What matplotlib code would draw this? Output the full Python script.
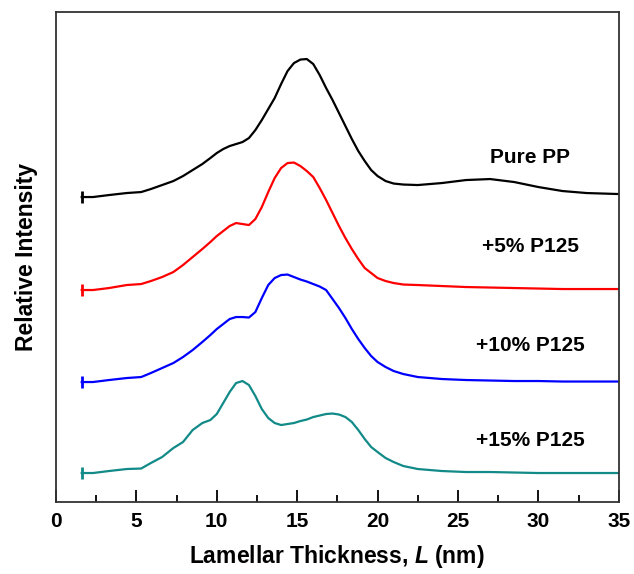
import numpy as np
import matplotlib
matplotlib.use('Agg')
from matplotlib import pyplot as plt

plt.rcParams['font.family'] = ['Liberation Sans', 'DejaVu Sans']
plt.rcParams['font.weight'] = 'bold'
plt.rcParams['mathtext.fontset'] = 'custom'
plt.rcParams['mathtext.it'] = 'Liberation Sans:italic:bold'

# lamellar thickness L (nm)
L = [1.6, 2.3, 3.3, 4.4, 5.3, 5.9, 6.6, 7.3, 7.9, 8.5,
     9.1, 9.6, 10.0, 10.4, 10.8, 11.2, 11.6, 12.0, 12.4, 12.8,
     13.2, 13.6, 14.0, 14.4, 14.8, 15.2, 15.6, 16.0, 16.4, 16.8,
     17.2, 17.6, 18.0, 18.4, 18.8, 19.2, 19.6, 20.0, 20.5, 21.0,
     21.6, 22.5, 24, 25.5, 27, 28.5, 30, 31.5, 33, 35]

# relative intensity (arbitrary units, above each curve's baseline)
pure_pp = [0, 0, 2, 4, 5, 8, 12, 16, 21, 27,
           33, 39, 44, 48, 51, 53, 55, 59, 67, 77,
           88, 99, 113, 126, 134, 137.5, 138, 133, 122, 109,
           97, 84, 71, 58, 46, 36, 27, 21, 16, 13.5,
           12.5, 12, 14, 17, 18, 15, 10, 6, 4, 3]
p125_5 = [0, 0, 2, 5, 6, 9, 13, 18, 25, 33,
          41, 48, 54, 59, 64, 67, 66, 65, 71, 83,
          98, 112, 122, 127, 127.5, 124, 119, 113, 102, 90,
          77, 64, 52, 41, 31, 22, 17, 12, 9, 7,
          5.5, 5, 4, 3, 2.5, 2, 1.5, 1, 1, 1]
p125_10 = [0, 0, 2, 4, 5, 9, 14, 19, 25, 32,
           40, 47, 53, 58, 63, 65, 65, 64.5, 70, 84,
           97, 104, 107, 107.5, 105, 102.5, 100.5, 98, 95.5, 92,
           83, 74, 64, 53, 43, 34, 26, 20, 15, 11,
           8, 5, 3, 2, 1.5, 1, 1, 0.5, 0.5, 0.5]
p125_15 = [0, 0, 2, 4, 4.5, 10, 16, 25, 31, 43,
           50, 53, 59, 70, 81, 90, 92, 88, 77, 64,
           55, 50, 48, 49, 50, 52, 53.5, 56, 57.5, 59,
           59.5, 58.5, 56, 51, 43, 34, 26, 21, 15, 11,
           7, 4, 2, 1, 1, 0.5, 0, 0, 0, 0]

labels = ['Pure PP', '+5% P125', '+10% P125', '+15% P125']
series = [pure_pp, p125_5, p125_10, p125_15]
offsets = [305, 212, 120, 29]
colors = ['black', '#ff0000', '#0000ff', '#118a88']
label_y = [345, 256, 157, 62]

fig = plt.figure(figsize=(6.34, 5.74), dpi=100)
ax = fig.add_axes([0.0883, 0.1254, 0.8877, 0.8536])

for s, off, c, lab, ly in zip(series, offsets, colors, labels, label_y):
    y = np.array(s) + off
    ax.plot(L, y, color=c, lw=1.6, solid_joinstyle='round')
    ax.plot(L[0], y[0], marker='|', color=c, ms=8, mew=2)
    ax.text(29.5, ly, lab, ha='center', va='center', fontsize=15, fontweight='bold')

ax.set_xlim(0, 35)
ax.set_ylim(0, 490)
ax.set_xticks(range(0, 36, 5))
ax.set_xticks(np.arange(2.5, 35, 5), minor=True)
ax.set_yticks([])
ax.tick_params(axis='x', which='major', direction='in', length=9, width=1.3,
               labelsize=15, pad=7)
ax.tick_params(axis='x', which='minor', direction='in', length=5, width=1.3)
for sp in ax.spines.values():
    sp.set_linewidth(1.3)
    sp.set_color('#333333')
for t in ax.get_xticklabels():
    t.set_fontweight('bold')

ax.set_xlabel('Lamellar Thickness, $L$ (nm)', fontsize=16.5, fontweight='bold', labelpad=9)
ax.set_ylabel('Relative Intensity', fontsize=16.5, fontweight='bold', labelpad=13)

fig.savefig('out.png', dpi=100)
